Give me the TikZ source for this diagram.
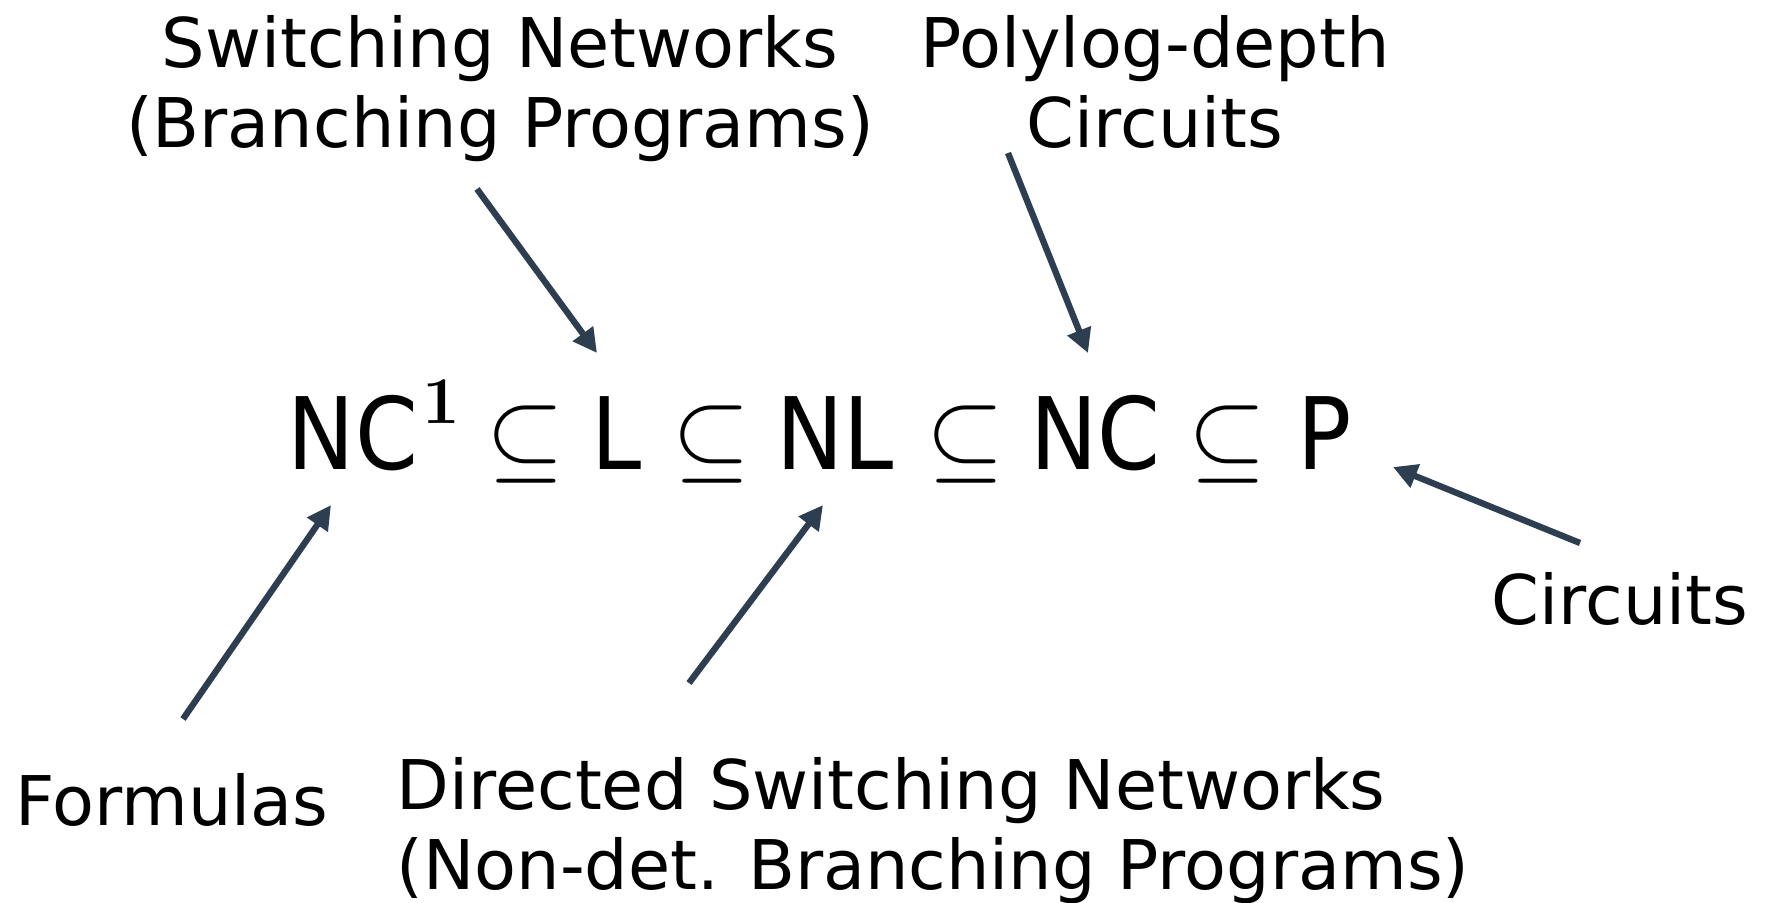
\documentclass[tikz,border=0pt]{standalone}
\usepackage{fix-cm}
\usepackage{fontspec}
\setmainfont{DejaVu Sans}
\usetikzlibrary{arrows.meta, positioning}
\definecolor{Slate}{HTML}{2C3E50}
\tikzset{
  lbl/.style={inner sep=0pt, align=#1,
              font=\fontsize{19.5pt}{22.5pt}\selectfont},
  lbl/.default=center,
  cls/.style={inner sep=0pt, anchor=base,
              font=\fontsize{28.45pt}{32pt}\selectfont\addfontfeature{FakeStretch=0.9}},
  rel/.style={inner sep=0pt, anchor=base,
              font=\fontsize{28.45pt}{32pt}\selectfont},
}
\newcommand{\supone}{\hspace{0.05cm}\raisebox{0.46cm}{\fontsize{19pt}{19pt}\usefont{OT1}{cmr}{bx}{n}1}}

\begin{document}
\begin{tikzpicture}[
    arr/.style={-{Triangle[length=2.4mm,width=2.4mm]}, line width=1.8pt, color=Slate},
    x=1cm, y=1cm
  ]
  \useasboundingbox (0,0) rectangle (17.72,-9.02);
  % chain of classes
  \node[cls, anchor=base west] (nc1) at (2.87,-4.69) {NC\supone};
  \node[rel] (sub1) at (5.25,-4.69) {$\subseteq$};
  \node[cls] (logsp) at (6.17,-4.69) {L};
  \node[rel] (sub2) at (7.11,-4.69) {$\subseteq$};
  \node[cls] (nlogsp) at (8.35,-4.69) {NL};
  \node[rel] (sub3) at (9.655,-4.69) {$\subseteq$};
  \node[cls] (nc) at (10.955,-4.69) {NC};
  \node[rel] (sub4) at (12.275,-4.69) {$\subseteq$};
  \node[cls] (ptime) at (13.25,-4.69) {P};
  % labels
  \node[lbl, anchor=base] (swnet) at (5.00,-1.47)
    {Switching Networks\\(Branching Programs)};
  \node[lbl, anchor=base] (polylog) at (11.55,-1.47)
    {Polylog-depth\\Circuits};
  \node[lbl, anchor=base] (formulas) at (1.72,-8.25) {Formulas};
  \node[lbl=left, anchor=base west] (dirnet) at (3.96,-8.89)
    {Directed Switching Networks\\(Non-det. Branching Programs)};
  \node[lbl, anchor=base] (circuits) at (16.20,-6.24) {Circuits};
  % arrow ends
  \coordinate (swtail) at (4.77,-1.89);   \coordinate (swhead) at (5.97,-3.53);
  \coordinate (pltail) at (10.08,-1.53);  \coordinate (plhead) at (10.88,-3.53);
  \coordinate (fmtail) at (1.83,-7.19);   \coordinate (fmhead) at (3.31,-5.05);
  \coordinate (dntail) at (6.89,-6.83);   \coordinate (dnhead) at (8.23,-5.05);
  \coordinate (cctail) at (15.80,-5.43);  \coordinate (cchead) at (13.93,-4.67);
  \draw[arr] (swtail) -- (swhead);
  \draw[arr] (pltail) -- (plhead);
  \draw[arr] (fmtail) -- (fmhead);
  \draw[arr] (dntail) -- (dnhead);
  \draw[arr] (cctail) -- (cchead);
\end{tikzpicture}
\end{document}
